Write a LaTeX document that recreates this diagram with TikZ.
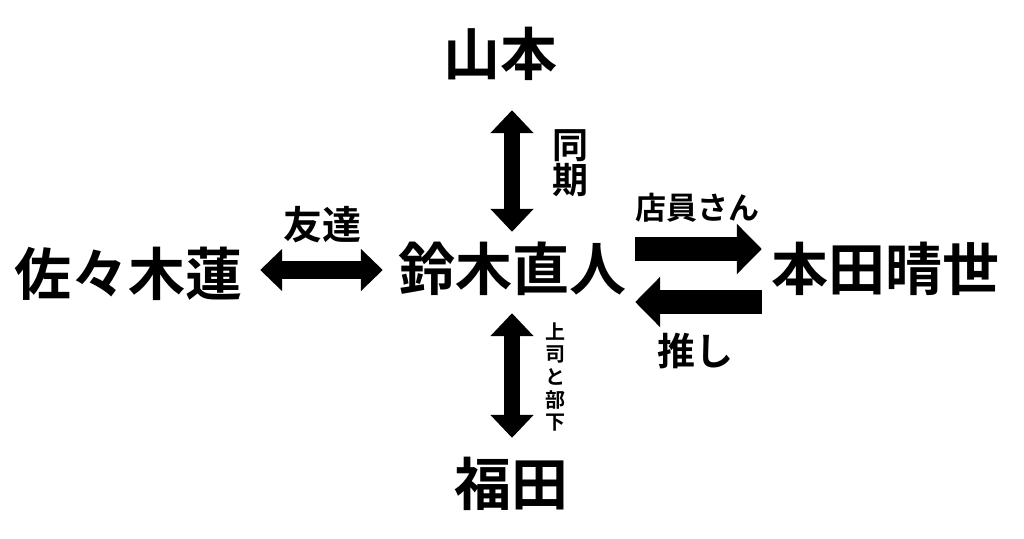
\documentclass[tikz,border=0pt]{standalone}
\usepackage{fontspec}
\setmainfont{Noto Sans CJK JP}[BoldFont={Noto Sans CJK JP Bold}]
\usetikzlibrary{arrows.meta}
\tikzset{
  person/.style={font=\bfseries\fontsize{57}{57}\selectfont, inner sep=0pt, text height=47pt, text depth=6pt},
  tag/.style={font=\bfseries\fontsize{#1}{#1}\selectfont, inner sep=0pt},
  vtag/.style={font=\bfseries\fontsize{#1}{#1}\selectfont, inner sep=0pt, align=center},
  vlink/.style={line width=16pt, {Triangle[width=42pt,length=23pt]}-{Triangle[width=42pt,length=23pt]}},
  hlink/.style={line width=18pt, {Triangle[width=41pt,length=22pt]}-{Triangle[width=41pt,length=22pt]}},
  onelink/.style={line width=24pt, -{Triangle[width=49pt,length=25pt]}}
}

\begin{document}
\begin{tikzpicture}[x=1pt, y=-1pt]
  \fill[white] (0,0) rectangle (1024,538);
  \useasboundingbox (0,0) rectangle (1024,538);
  % people
  \node[person] (suzuki) at (512,270) {鈴木直人};
  \node[person] (sasaki) at (128,275) {佐々木蓮};
  \node[person] (honda) at (885,270) {本田晴世};
  \node[person] (yamamoto) at (500,55) {山本};
  \node[person] (fukuda) at (511,485) {福田};
  % relations
  \draw[vlink, shorten <=28.5pt, shorten >=11.5pt] (yamamoto.south -| suzuki.north) -- (suzuki.north);
  \draw[vlink, shorten <=16.5pt, shorten >=20.5pt] (suzuki.south) -- (suzuki.south |- fukuda.north);
  \draw[hlink, shorten <=18pt, shorten >=15pt] (sasaki.east |- suzuki.west) -- (suzuki.west);
  \draw[onelink, shorten <=9pt, shorten >=9pt] ([yshift=21pt]suzuki.east) -- ([yshift=21pt]honda.west);
  \draw[onelink, shorten <=9pt, shorten >=9pt] ([yshift=-32pt]honda.west) -- ([yshift=-32pt]suzuki.east);
  % labels
  \node[tag=39] (tomo) at (322,225) {友達};
  \node[tag=31] (tenin) at (697,208) {店員さん};
  \node[tag=38] (oshi) at (695,351) {推し};
  \node[vtag=36] (douki) at (570,163) {同\\[-1pt]期};
  \node[vtag=20] (joushi) at (555,377) {上\\[2.6pt]司\\[2.6pt]と\\[2.6pt]部\\[2.6pt]下};
\end{tikzpicture}
\end{document}
